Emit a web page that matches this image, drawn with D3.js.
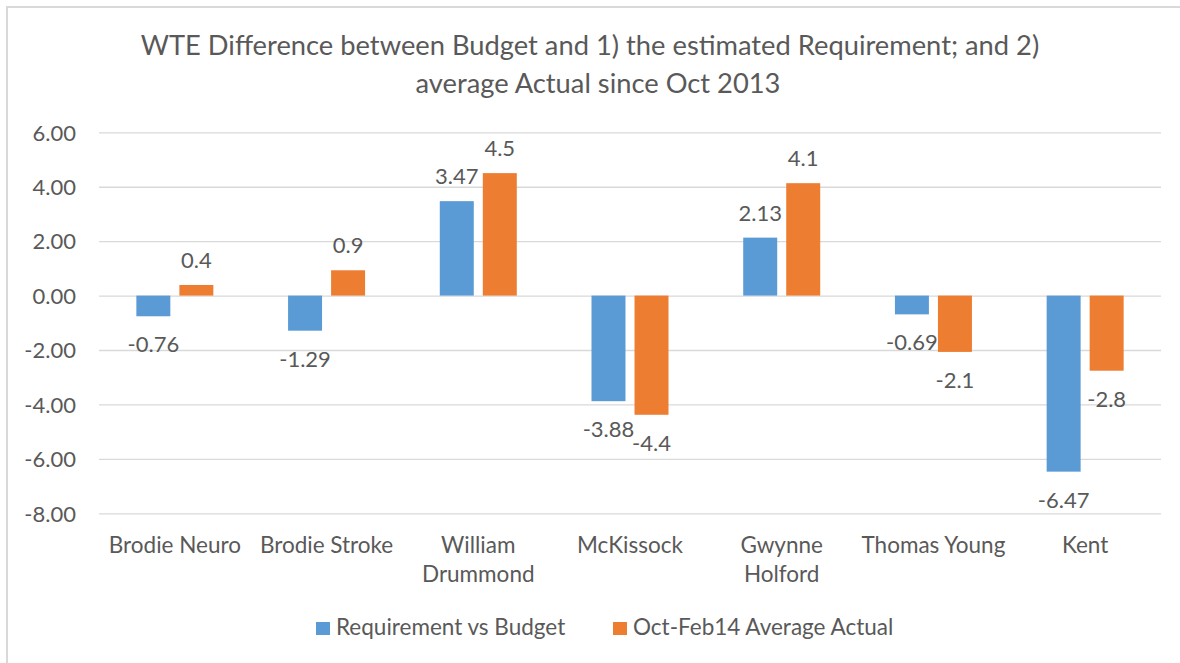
<!DOCTYPE html>
<html>
<head>
<meta charset="utf-8">
<script src="https://cdn.jsdelivr.net/npm/d3@7/dist/d3.min.js"></script>
<style>
  html, body { margin: 0; padding: 0; background: #fff; }
  svg { display: block; }
  text { font-family: Lato, "Open Sans", sans-serif; fill: #595959; }
</style>
</head>
<body>
<svg id="chart" width="1180" height="663"></svg>
<script>
// ---- data ----
const categories = [["Brodie Neuro"], ["Brodie Stroke"], ["William", "Drummond"], ["McKissock"], ["Gwynne", "Holford"], ["Thomas Young"], ["Kent"]];
const seriesNames = ["Requirement vs Budget", "Oct-Feb14 Average Actual"];
const requirementVsBudget = [-0.76, -1.29, 3.47, -3.88, 2.13, -0.69, -6.47];
const averageActual = [0.39, 0.93, 4.5, -4.38, 4.13, -2.07, -2.76];
const yTicks = [6, 4, 2, 0, -2, -4, -6, -8];
const titleLines = ["WTE Difference between Budget and 1) the estimated Requirement; and 2)", "average Actual since Oct 2013"];
const colors = ["#5B9BD5", "#ED7D31"];

// ---- chart ----
const svg = d3.select("#chart");
const W = 1180, H = 663;
const plot = { left: 99, right: 1161, top: 132.3, bottom: 513.3 };

const loc = d3.formatLocale({ decimal: ".", thousands: ",", grouping: [3], currency: ["", ""], minus: "-" });
const fmt2 = loc.format(".2f");
const fmt1 = loc.format(".1f");

// frame
svg.append("rect").attr("x", 7).attr("y", 7).attr("width", W + 20).attr("height", H + 20)
  .attr("fill", "none").attr("stroke", "#D9D9D9").attr("stroke-width", 2);

const catKeys = categories.map(c => c.join(" "));
const x = d3.scaleBand().domain(catKeys).range([plot.left, plot.right]).paddingInner(0).paddingOuter(0);
const y = d3.scaleLinear().domain([-8, 6]).range([plot.bottom, plot.top]);

// title
svg.append("text").attr("text-anchor", "middle").style("font-size", "27.3px")
  .selectAll("tspan").data(titleLines).join("tspan")
  .attr("x", (d, i) => 590 + i * 8).attr("y", (d, i) => 55 + i * 38).text(d => d);

// gridlines + y axis
const yAxis = d3.axisLeft(y).tickValues(yTicks).tickSize(-(plot.right - plot.left)).tickPadding(23).tickFormat(fmt2);
const gy = svg.append("g").attr("transform", `translate(${plot.left},0)`).call(yAxis);
gy.select(".domain").remove();
gy.selectAll(".tick line").attr("stroke", "#D9D9D9").attr("stroke-width", 1.3);
gy.selectAll(".tick text").style("font-size", "22px").attr("fill", "#595959").attr("dy", "0.35em");

// bars
const series = [requirementVsBudget, averageActual];
const inner = d3.scaleBand().domain([0, 1]).range([-38.5, 38.5]).paddingInner(0.21).paddingOuter(0);

const groups = svg.append("g").selectAll("g").data(series).join("g").attr("fill", (d, i) => colors[i]);
groups.each(function(vals, si) {
  const g = d3.select(this);
  g.selectAll("rect").data(vals).join("rect")
    .attr("x", (v, ci) => x(catKeys[ci]) + x.bandwidth() / 2 + inner(si))
    .attr("width", inner.bandwidth())
    .attr("y", v => y(Math.max(0, v)))
    .attr("height", v => Math.abs(y(v) - y(0)));
});

// data labels
const labels = svg.append("g").style("font-size", "22px").attr("text-anchor", "middle");
series.forEach((vals, si) => {
  const f = si === 0 ? fmt2 : fmt1;
  labels.selectAll(null).data(vals).join("text")
    .attr("x", (v, ci) => x(catKeys[ci]) + x.bandwidth() / 2 + inner(si) + inner.bandwidth() / 2)
    .attr("y", v => v >= 0 ? y(v) - 17 : y(v) + 36)
    .text(v => f(v));
});

// category labels
const cat = svg.append("g").style("font-size", "22.5px").attr("text-anchor", "middle");
categories.forEach((lines, ci) => {
  const t = cat.append("text");
  lines.forEach((ln, li) => {
    t.append("tspan").attr("x", x(catKeys[ci]) + x.bandwidth() / 2).attr("y", 553 + li * 29).text(ln);
  });
});

// legend
const legendItems = [{ x: 316, name: seriesNames[0], c: colors[0] }, { x: 613, name: seriesNames[1], c: colors[1] }];
const lg = svg.append("g");
legendItems.forEach(it => {
  lg.append("rect").attr("x", it.x).attr("y", 622).attr("width", 14).attr("height", 13).attr("fill", it.c);
  lg.append("text").attr("x", it.x + 20).attr("y", 635).style("font-size", "22.5px").text(it.name);
});
</script>
</body>
</html>
